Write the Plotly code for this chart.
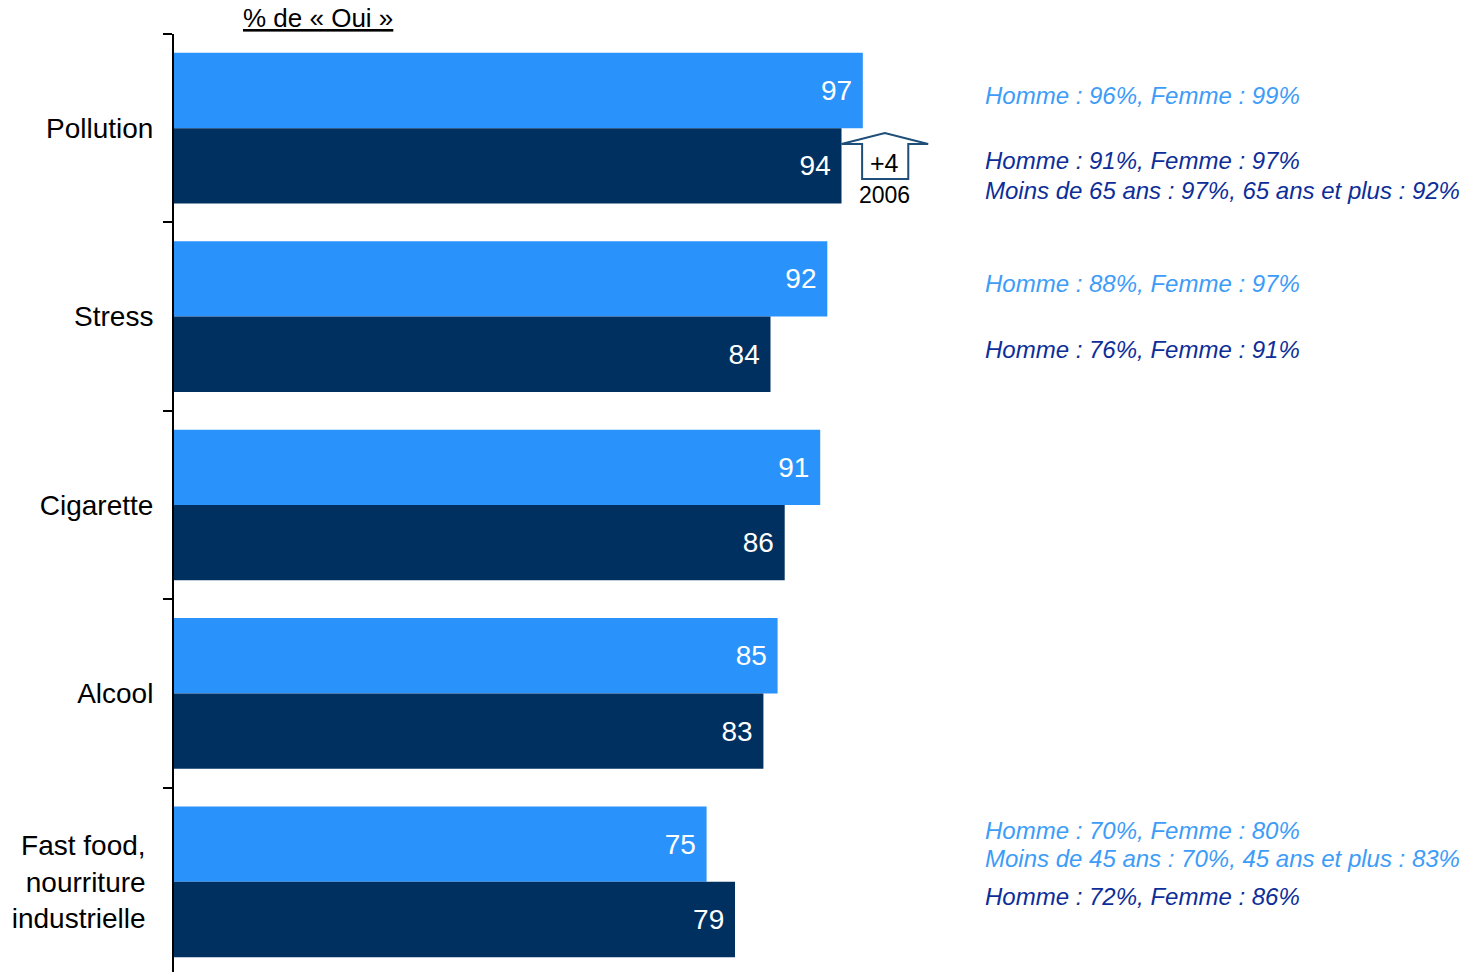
import plotly.graph_objects as go

# ---- data ----
categories = ["Pollution", "Stress", "Cigarette", "Alcool",
              "Fast food,\u00a0<br>nourriture\u00a0<br>industrielle\u00a0"]
values_current = [97, 92, 91, 85, 75]
values_2006 = [94, 84, 86, 83, 79]

title_text = "% de « Oui »"
evolution_text = "+4"
evolution_year = "2006"

# side notes: (text, pixel-row)
notes_light = [
    ("Homme : 96%, Femme : 99%", 96),
    ("Homme : 88%, Femme : 97%", 283),
    ("Homme : 70%, Femme : 80%", 830),
    ("Moins de 45 ans : 70%, 45 ans et plus : 83%", 858),
]
notes_dark = [
    ("Homme : 91%, Femme : 97%", 161),
    ("Moins de 65 ans : 97%, 65 ans et plus : 92%", 191),
    ("Homme : 76%, Femme : 91%", 349),
    ("Homme : 72%, Femme : 86%", 896),
]

# ---- styles ----
LIGHT = "#2A92FB"
DARK = "#00305F"
NOTE_LIGHT = "#3D9CF7"
NOTE_DARK = "#0D2E98"
FONT = "Liberation Sans, Arial, sans-serif"

W, H = 1465, 976
ML, MT, MR, MB = 174, 34, 0, 0
XMAX = 181.8


def py(y):
    return (H - MB - y) / (H - MT - MB)


def px(x):
    return (x - ML) / (W - ML - MR)


fig = go.Figure()
fig.add_trace(go.Bar(
    y=categories, x=values_current, orientation="h", name="current",
    marker=dict(color=LIGHT, line=dict(width=0)),
    texttemplate="%{x}\u00a0", textposition="inside", insidetextanchor="end",
    textfont=dict(color="white", size=28, family=FONT),
))
fig.add_trace(go.Bar(
    y=categories, x=values_2006, orientation="h", name="2006",
    marker=dict(color=DARK, line=dict(width=0)),
    texttemplate="%{x}\u00a0", textposition="inside", insidetextanchor="end",
    textfont=dict(color="white", size=28, family=FONT),
))

annotations = []
annotations.append(dict(
    text="<u>" + title_text + "</u>", xref="paper", yref="paper",
    x=px(318), y=py(18), showarrow=False, xanchor="center", yanchor="middle",
    font=dict(size=26, color="black", family=FONT)))

for t, yy in notes_light:
    annotations.append(dict(text="<i>" + t + "</i>", xref="paper", yref="paper",
                            x=px(983), y=py(yy), showarrow=False, xanchor="left",
                            yanchor="middle", font=dict(size=24, color=NOTE_LIGHT, family=FONT)))
for t, yy in notes_dark:
    annotations.append(dict(text="<i>" + t + "</i>", xref="paper", yref="paper",
                            x=px(983), y=py(yy), showarrow=False, xanchor="left",
                            yanchor="middle", font=dict(size=24, color=NOTE_DARK, family=FONT)))

# evolution arrow next to the Pollution 2006 bar
v = values_2006[0]
yt, ys, yb = py(133), py(144), py(179)
path = (f"M {v+2.9},{yb} L {v+2.9},{ys} L {v},{ys} L {v+6.1},{yt} "
        f"L {v+12.2},{ys} L {v+9.4},{ys} L {v+9.4},{yb} Z")
fig.add_shape(type="path", path=path, xref="x", yref="paper",
              line=dict(color="#1F4E79", width=2), fillcolor="white")
annotations.append(dict(text=evolution_text, xref="x", yref="paper", x=v + 6.1, y=py(163),
                        xanchor="center", yanchor="middle",
                        showarrow=False, font=dict(size=25, color="black", family=FONT)))
annotations.append(dict(text=evolution_year, xref="x", yref="paper", x=v + 6.1, y=py(195),
                        xanchor="center", yanchor="middle",
                        showarrow=False, font=dict(size=23, color="black", family=FONT)))

fig.update_layout(
    width=W, height=H,
    margin=dict(l=ML, r=MR, t=MT, b=MB, pad=0),
    plot_bgcolor="white", paper_bgcolor="white",
    barmode="group", bargap=0.2, bargroupgap=0,
    showlegend=False,
    annotations=annotations,
    font=dict(family=FONT),
)
fig.update_xaxes(range=[0, XMAX], visible=False, fixedrange=True)
fig.update_yaxes(
    autorange="reversed", showline=True, linecolor="black", linewidth=2,
    ticks="outside", tickson="boundaries", ticklen=9, tickwidth=2, tickcolor="black",
    ticklabelstandoff=13, showgrid=False, zeroline=False,
    tickfont=dict(size=28, color="black", family=FONT),
)

fig.write_html(
    "out.html",
    config={"displayModeBar": False},
    post_script="document.body.style.margin='0';document.body.style.overflow='hidden';",
)
